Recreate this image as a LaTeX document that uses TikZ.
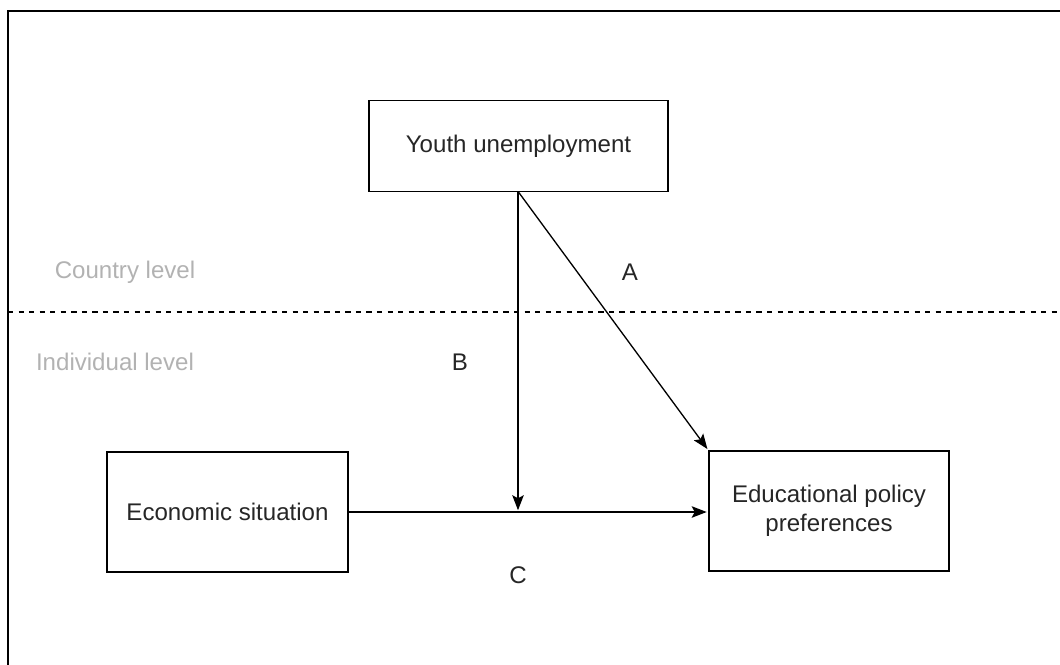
\documentclass[tikz,border=0pt]{standalone}
\usepackage{fontspec}
\setmainfont{Liberation Sans}
\usepackage{tikz}
\usetikzlibrary{arrows.meta}

\begin{document}
\begin{tikzpicture}[x=0.02cm, y=-0.02cm, ->, >={Stealth[length=0.3cm,width=0.23cm,inset=0.06cm]}, shorten >=1pt, line width=0.75pt]
  \tikzstyle{box}=[draw, line width=0.65pt, minimum width=5.98cm, minimum height=2.4cm, align=center, text=black!85, font=\fontsize{13.7}{16.5}\selectfont]
  \tikzstyle{lbl}=[text=black!85, font=\fontsize{13.7}{16.5}\selectfont]
  \tikzstyle{level}=[text=black!30, font=\fontsize{13.7}{16.5}\selectfont]
  \useasboundingbox (0,0) rectangle (1060,665);
  % frame and level border
  \draw[-, line width=1.1pt, shorten >=0pt] (8,665) -- (8,11) -- (1060,11);
  \draw[-, dashed, line width=0.65pt, shorten >=0pt] (8,312) -- (1060,312);

  \node[box, minimum height=1.82cm] (Y) at (518.5,146) {Youth unemployment};
  \node[box, minimum width=4.82cm] (S) at (227.5,512)   {Economic situation};
  \node[box, minimum width=4.8cm]  (E) at (829,511)     {Educational policy\\preferences};
  \coordinate (J) at (518,512);

  \node[level] (CL) at (125,272) {Country level};
  \node[level] (IL) at (115,362) {Individual level};
  \node[lbl]   (A)  at (630,272) {A};
  \node[lbl]   (B)  at (460,362) {B};
  \node[lbl]   (C)  at (518,575) {C};

  \path (Y.south -| J) edge  (J)
        (Y.south)      edge  (E.north west)
        (S.east)       edge  (E.west |- J);
\end{tikzpicture}
\end{document}
